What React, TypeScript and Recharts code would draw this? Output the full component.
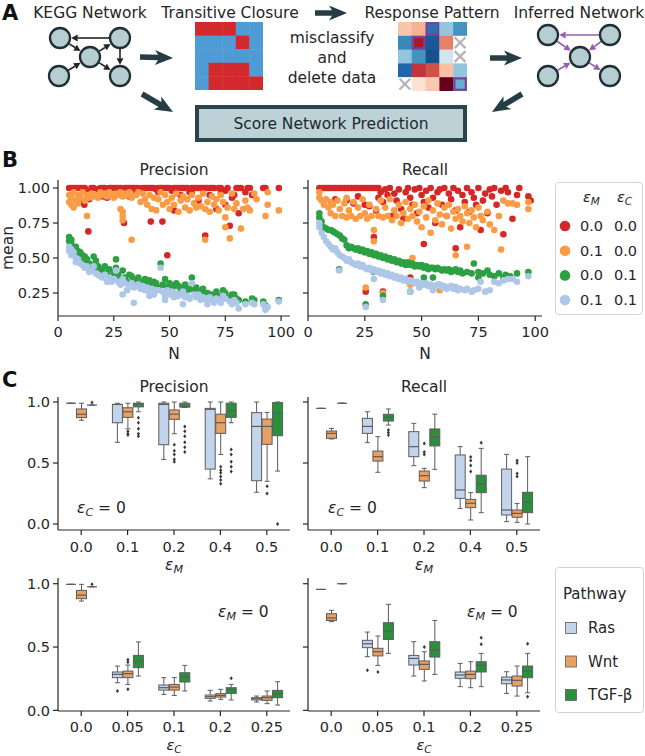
import React from 'react';
import { ScatterChart, Scatter, XAxis, YAxis, ComposedChart, Bar, Legend } from 'recharts';

const FONT = '"DejaVu Sans", Verdana, sans-serif';
const INK = '#262626';

const RED = '#d62728';
const ORANGE = '#f99c45';
const GREEN = '#2ca043';
const LIGHTBLUE = '#aec7e8';

const RAS = '#c3d5ec';
const WNT = '#e8a162';
const TGF = '#2b8f3c';
const BOX_EDGE = '#5c5c5c';

// ---------- panel A: toy matrices ----------
const closureMatrix = [
  [1, 1, 1, 0, 0],
  [0, 0, 0, 1, 0],
  [0, 0, 0, 0, 0],
  [0, 1, 1, 1, 0],
  [0, 1, 1, 1, 1],
];
const responseMatrix: (number | null)[][] = [
  [0.28, 0.35, -0.75, -0.4, -0.6],
  [-0.65, 0.82, -0.85, 0.5, null],
  [-0.4, -0.6, -0.88, -0.2, null],
  [-0.8, 0.72, 0.64, 0.3, -0.4],
  [null, 0.15, 0.27, 1.0, -0.5],
];
const misclassified = [[0, 2], [1, 1], [4, 4]];

// ---------- panel B: mean precision / recall vs N ----------
const precisionRed = [
  [5, 1], [6, 1], [7, 1], [8, 1], [9, 1], [10, 1], [11, 1], [12, 1], [13, 0.98], [15, 1], [16, 1], [18, 0.99],
  [19, 1], [20, 1], [21, 1], [22, 0.97], [23, 1], [24, 1], [25, 1], [26, 1], [27, 1], [28, 1], [29, 0.99], [30, 1],
  [31, 1], [32, 1], [33, 1], [34, 1], [35, 1], [36, 1], [37, 0.98], [38, 1], [39, 1], [40, 1], [41, 1], [42, 1],
  [43, 1], [44, 0.99], [45, 1], [46, 1], [47, 1], [48, 1], [49, 1], [50, 1], [51, 0.98], [52, 1], [53, 1], [54, 1],
  [55, 1], [56, 1], [57, 1], [58, 1], [59, 0.97], [60, 1], [61, 1], [62, 1], [63, 1], [64, 1], [65, 1], [66, 1],
  [67, 1], [68, 1], [69, 1], [70, 1], [72, 1], [73, 1], [75, 0.98], [76, 1], [79, 0.95], [80, 1], [81, 1], [82, 1],
  [85, 1], [86, 1], [87, 0.95], [92, 1], [93, 1], [99, 1],
  [10, 0.9], [11.8, 0.88], [13.6, 0.69], [14, 0.92], [20, 0.94], [22, 0.93], [25, 0.95], [29.6, 0.75], [32, 0.94],
  [35, 0.96], [41.6, 0.76], [45, 0.97], [46.8, 0.76], [49, 0.52], [52, 0.84], [55, 0.95], [60, 0.96], [63, 0.91],
  [66, 0.66], [68, 0.95], [71, 0.85], [73, 0.96], [75, 0.88], [77, 0.73], [78, 0.93], [81, 0.82], [84, 0.97],
];
const precisionOrange = [
  [5, 0.95], [5, 0.9], [6, 0.88], [6, 0.93], [7, 0.97], [7, 0.86], [8, 0.91], [9, 0.95], [9, 0.89], [10, 0.93],
  [11, 0.97], [12, 0.91], [13, 0.8], [13, 0.95], [14, 0.93], [15, 0.96], [16, 0.94], [17, 0.95], [18, 0.93],
  [19, 0.97], [20, 0.95], [21, 0.96], [22, 0.94], [23, 0.97], [24, 0.95], [25, 0.93], [26, 0.96], [27, 0.95],
  [28, 0.85], [28, 0.97], [29, 0.83], [29, 0.8], [29, 0.77], [29, 0.94], [30, 0.96], [31, 0.95], [32, 0.97],
  [33, 0.63], [33, 0.93], [35, 0.95], [36, 0.97], [37, 0.9], [38, 0.96], [39, 0.92], [40, 0.88], [41, 0.95],
  [42, 0.85], [43, 0.93], [44, 0.84], [45, 0.92], [46, 0.97], [47, 0.88], [48, 0.95], [49, 0.9], [50, 0.85],
  [51, 0.93], [52, 0.88], [53, 0.96], [54, 0.83], [55, 0.91], [56, 0.94], [57, 0.86], [58, 0.92], [59, 0.84],
  [60, 0.95], [61, 0.89], [62, 0.86], [63, 0.93], [64, 0.87], [65, 0.96], [66, 0.63], [66, 0.85], [67, 0.9],
  [68, 0.83], [69, 0.94], [70, 0.88], [71, 0.92], [72, 0.84], [73, 0.95], [74, 0.9], [75, 0.79], [75, 0.72],
  [76, 0.86], [77, 0.64], [78, 0.96], [79, 0.85], [80, 0.89], [82, 0.71], [83, 0.85], [84, 0.91], [85, 0.86],
  [86, 0.84], [88, 0.96], [89, 0.92], [93, 0.8], [94, 0.88], [94, 0.97], [99, 0.84],
];
const precisionGreen = [
  [5, 0.65], [5, 0.62], [6, 0.6], [6, 0.63], [7, 0.57], [8, 0.58], [8, 0.53], [9, 0.55], [10, 0.54], [10, 0.5],
  [11, 0.52], [12, 0.51], [12, 0.47], [13, 0.49], [14, 0.46], [15, 0.45], [16, 0.51], [17, 0.48], [17, 0.43],
  [18, 0.44], [19, 0.42], [20, 0.4], [21, 0.44], [22, 0.39], [23, 0.42], [24, 0.37], [25, 0.4], [26, 0.49],
  [26, 0.43], [27, 0.38], [28, 0.35], [29, 0.41], [30, 0.36], [31, 0.33], [32, 0.38], [33, 0.37], [34, 0.34],
  [35, 0.33], [36, 0.36], [37, 0.31], [38, 0.33], [39, 0.35], [40, 0.31], [41, 0.34], [42, 0.3], [43, 0.33],
  [44, 0.32], [45, 0.29], [46, 0.46], [47, 0.31], [48, 0.35], [49, 0.29], [50, 0.32], [51, 0.28], [52, 0.3],
  [53, 0.32], [54, 0.3], [55, 0.27], [56, 0.29], [57, 0.31], [58, 0.27], [59, 0.28], [60, 0.36], [61, 0.27],
  [62, 0.29], [63, 0.25], [64, 0.26], [65, 0.28], [66, 0.24], [67, 0.25], [68, 0.23], [69, 0.24], [70, 0.22],
  [71, 0.26], [72, 0.23], [73, 0.21], [74, 0.27], [75, 0.25], [77, 0.22], [78, 0.24], [79, 0.24], [80, 0.21],
  [81, 0.2], [84, 0.19], [87, 0.21], [88, 0.2], [92, 0.19], [93, 0.16], [99, 0.2],
];
const precisionBlue = [
  [5, 0.58], [5, 0.55], [6, 0.56], [6, 0.52], [7, 0.54], [8, 0.5], [8, 0.47], [9, 0.49], [10, 0.46], [11, 0.45],
  [12, 0.43], [13, 0.44], [14, 0.4], [15, 0.41], [16, 0.44], [17, 0.39], [18, 0.38], [19, 0.37], [20, 0.36],
  [21, 0.38], [22, 0.33], [23, 0.36], [24, 0.33], [25, 0.35], [26, 0.41], [27, 0.33], [28, 0.31], [29, 0.24],
  [29, 0.35], [30, 0.32], [31, 0.27], [32, 0.3], [33, 0.32], [34, 0.18], [34, 0.29], [35, 0.3], [36, 0.31],
  [37, 0.28], [38, 0.3], [39, 0.27], [40, 0.29], [41, 0.23], [41, 0.26], [42, 0.28], [43, 0.24], [44, 0.27],
  [45, 0.27], [46, 0.43], [47, 0.26], [48, 0.2], [48, 0.23], [49, 0.27], [50, 0.24], [51, 0.26], [52, 0.22],
  [53, 0.25], [54, 0.23], [55, 0.24], [56, 0.17], [56, 0.26], [57, 0.22], [58, 0.23], [59, 0.21], [60, 0.32],
  [61, 0.24], [62, 0.22], [63, 0.24], [64, 0.2], [65, 0.22], [66, 0.21], [67, 0.17], [67, 0.19], [68, 0.22],
  [69, 0.2], [70, 0.18], [71, 0.21], [72, 0.2], [73, 0.18], [74, 0.23], [75, 0.21], [77, 0.19], [78, 0.17],
  [79, 0.2], [80, 0.18], [81, 0.14], [84, 0.17], [87, 0.18], [88, 0.17], [92, 0.17], [93, 0.13], [94, 0.15], [99, 0.19],
];
const recallRed = [
  [5, 1], [6, 1], [7, 1], [8, 1], [9, 1], [10, 1], [11, 1], [12, 1], [13, 1], [14, 1], [15, 1], [16, 1], [17, 1],
  [18, 1], [19, 1], [20, 1], [21, 1], [22, 1], [23, 1], [24, 1], [25, 1], [26, 1], [27, 1], [28, 1], [29, 1],
  [30, 1], [31, 1],
  [12, 0.92], [17, 0.91], [20, 0.89], [22, 0.94], [25, 0.88], [25.4, 0.26], [27, 0.87], [29, 0.65], [30, 0.84],
  [31, 0.93], [32, 0.97], [33, 0.26], [33, 0.9], [34, 0.99], [35, 0.95], [36, 1], [37, 0.8], [38, 0.96], [39, 0.91],
  [40, 0.99], [41, 0.85], [42, 0.78], [43, 0.97], [44, 1], [45, 0.36], [45, 0.93], [46, 0.88], [47, 0.99],
  [48, 0.82], [49, 1], [50, 0.95], [51, 0.6], [51, 0.9], [52, 0.98], [53, 0.86], [54, 1], [55, 0.93], [56, 0.75],
  [57, 0.97], [58, 0.99], [59, 0.88], [60, 1], [61, 0.8], [62, 0.96], [63, 0.92], [64, 1], [65, 0.57], [65, 0.84],
  [66, 0.98], [67, 0.72], [68, 0.95], [69, 0.9], [70, 1], [71, 0.83], [72, 0.97], [73, 0.93], [74, 0.88], [75, 1],
  [76, 0.7], [77, 0.91], [78, 0.96], [79, 0.82], [80, 0.99], [81, 0.94], [82, 1], [83, 0.88], [85, 0.98], [86, 0.67],
  [87, 1], [88, 0.97], [90, 0.78], [92, 0.95], [93, 1], [97, 0.94], [98, 0.91],
];
const recallOrange = [
  [5, 0.97], [5, 0.93], [6, 0.91], [7, 0.88], [8, 0.92], [9, 0.86], [10, 0.9], [10, 0.82], [11, 0.88], [12, 0.8],
  [13, 0.91], [14, 0.85], [15, 0.8], [16, 0.89], [17, 0.79], [17, 0.93], [18, 0.84], [19, 0.8], [20, 0.9], [21, 0.78],
  [22, 0.86], [23, 0.8], [24, 0.92], [25.4, 0.29], [25, 0.82], [26, 0.78], [27, 0.88], [28, 0.8], [29, 0.7],
  [29, 0.62], [30, 0.85], [31, 0.8], [32, 0.91], [33, 0.25], [33, 0.79], [34, 0.86], [35, 0.8], [36, 0.92],
  [37, 0.77], [38, 0.84], [39, 0.8], [40, 0.88], [41, 0.75], [42, 0.82], [43, 0.9], [44, 0.78], [45, 0.31],
  [45, 0.85], [46, 0.5], [46, 0.8], [47, 0.88], [48, 0.76], [49, 0.83], [50, 0.72], [51, 0.87], [52, 0.79],
  [53, 0.91], [54, 0.68], [55, 0.84], [56, 0.77], [57, 0.89], [58, 0.27], [58, 0.81], [59, 0.74], [60, 0.86],
  [61, 0.8], [62, 0.88], [63, 0.71], [64, 0.83], [65, 0.52], [65, 0.78], [66, 0.85], [67, 0.8], [68, 0.76],
  [69, 0.87], [70, 0.58], [70, 0.82], [71, 0.75], [72, 0.84], [73, 0.79], [74, 0.72], [75, 0.86], [76, 0.8],
  [77, 0.77], [79, 0.83], [80, 0.74], [82, 0.7], [84, 0.8], [85, 0.56], [86, 0.91], [88, 0.89], [90, 0.89],
  [92, 0.88], [97, 0.9], [97, 0.85],
];
const recallGreen = [
  [5, 0.82], [5, 0.79], [6, 0.76], [7, 0.72], [8, 0.71], [9, 0.7], [10, 0.7], [11, 0.69], [12, 0.68], [13, 0.67],
  [13.7, 0.42], [14, 0.66], [15, 0.64], [16, 0.63], [17, 0.59], [18, 0.57], [19, 0.58], [20, 0.57], [21, 0.56],
  [22, 0.57], [23, 0.55], [24, 0.56], [25.4, 0.17], [25, 0.54], [26, 0.55], [27, 0.53], [28, 0.54], [29, 0.4],
  [29, 0.52], [30, 0.53], [31, 0.51], [32, 0.52], [33, 0.23], [33, 0.5], [34, 0.51], [35, 0.49], [36, 0.5],
  [37, 0.48], [38, 0.49], [39, 0.47], [40, 0.48], [41, 0.46], [42, 0.47], [43, 0.45], [44, 0.47], [45, 0.26],
  [45, 0.45], [46, 0.46], [47, 0.44], [48, 0.45], [49, 0.44], [50, 0.45], [51, 0.36], [51, 0.43], [52, 0.44],
  [53, 0.42], [54, 0.43], [55, 0.36], [55, 0.43], [56, 0.42], [57, 0.43], [58, 0.42], [59, 0.41], [60, 0.42],
  [61, 0.41], [62, 0.42], [63, 0.4], [64, 0.41], [65, 0.29], [65, 0.42], [66, 0.4], [67, 0.41], [68, 0.39],
  [70, 0.4], [72, 0.39], [73, 0.46], [75, 0.36], [75, 0.4], [77, 0.39], [79, 0.41], [80, 0.38], [82, 0.37],
  [84, 0.39], [86, 0.36], [87, 0.38], [89, 0.37], [92, 0.39], [97, 0.4],
];
const recallBlue = [
  [5, 0.75], [5, 0.72], [6, 0.68], [7, 0.65], [8, 0.62], [9, 0.6], [10, 0.58], [11, 0.56], [12, 0.57], [13.7, 0.41],
  [13, 0.54], [14, 0.52], [15, 0.51], [16, 0.5], [17, 0.48], [18, 0.49], [19, 0.47], [20, 0.46], [21, 0.45],
  [22, 0.46], [23, 0.44], [24, 0.45], [25.4, 0.15], [25, 0.43], [26, 0.42], [27, 0.43], [28, 0.41], [29, 0.35],
  [29, 0.42], [30, 0.4], [31, 0.41], [32, 0.39], [33, 0.2], [33, 0.4], [34, 0.38], [35, 0.39], [36, 0.37],
  [37, 0.38], [38, 0.36], [39, 0.37], [40, 0.35], [41, 0.36], [42, 0.34], [43, 0.35], [44, 0.33], [45, 0.26],
  [45, 0.34], [46, 0.33], [47, 0.32], [48, 0.33], [49, 0.29], [50, 0.32], [51, 0.31], [52, 0.32], [53, 0.3],
  [54, 0.31], [55, 0.27], [56, 0.3], [57, 0.31], [58, 0.31], [59, 0.29], [60, 0.3], [61, 0.28], [62, 0.29],
  [63, 0.3], [64, 0.28], [65, 0.29], [66, 0.27], [67, 0.28], [69, 0.27], [70, 0.28], [72, 0.26], [73, 0.27],
  [75, 0.28], [76, 0.33], [78, 0.26], [80, 0.27], [82, 0.33], [84, 0.32], [86, 0.34], [88, 0.35], [90, 0.35],
  [92, 0.33], [97, 0.37],
];

// ---------- panel C: box statistics [lowWhisker, q1, median, q3, highWhisker, outliers] ----------
type Box = [number, number, number, number, number, number[]];
const epsMCats = ['0.0', '0.1', '0.2', '0.4', '0.5'];
const epsCCats = ['0.0', '0.05', '0.1', '0.2', '0.25'];

const precisionMRas: Box[] = [
  [0.99, 0.99, 0.99, 0.99, 0.99, []],
  [0.67, 0.83, 0.98, 0.98, 0.99, []],
  [0.53, 0.65, 0.98, 0.99, 1.0, []],
  [0.37, 0.45, 0.94, 0.948, 1.0, []],
  [0.26, 0.355, 0.8, 0.913, 1.0, []],
];
const precisionMWnt: Box[] = [
  [0.85, 0.872, 0.9, 0.943, 0.99, []],
  [0.78, 0.874, 0.92, 0.953, 0.99, [0.76, 0.74, 0.73]],
  [0.74, 0.858, 0.9, 0.935, 1.0, [0.65, 0.6, 0.57, 0.53, 0.51]],
  [0.57, 0.743, 0.83, 0.9, 1.0, [0.47, 0.44, 0.42, 0.39, 0.36, 0.33]],
  [0.35, 0.653, 0.8, 0.86, 0.915, [0.31, 0.25]],
];
const precisionMTgf: Box[] = [
  [0.975, 0.975, 0.975, 0.975, 0.975, [0.995]],
  [0.92, 0.96, 0.985, 0.99, 1.0, [0.87, 0.83, 0.78, 0.74, 0.72]],
  [0.955, 0.958, 0.965, 0.99, 1.0, [0.8, 0.76, 0.72, 0.67, 0.63, 0.59]],
  [0.83, 0.874, 0.926, 0.99, 1.0, [0.61, 0.57, 0.51, 0.47, 0.43]],
  [0.434, 0.724, 0.907, 0.995, 1.0, [0.0]],
];
const recallMRas: Box[] = [
  [0.948, 0.948, 0.948, 0.948, 0.948, []],
  [0.667, 0.743, 0.8, 0.866, 0.92, []],
  [0.478, 0.552, 0.634, 0.757, 0.825, []],
  [0.128, 0.21, 0.279, 0.566, 0.634, []],
  [0.019, 0.074, 0.115, 0.45, 0.571, []],
];
const recallMWnt: Box[] = [
  [0.697, 0.702, 0.743, 0.762, 0.784, []],
  [0.424, 0.516, 0.552, 0.598, 0.716, []],
  [0.298, 0.352, 0.396, 0.434, 0.456, [0.66, 0.59, 0.57]],
  [0.033, 0.134, 0.17, 0.202, 0.257, [0.55, 0.52, 0.48, 0.43]],
  [0.014, 0.055, 0.087, 0.115, 0.169, [0.52, 0.5, 0.415, 0.39]],
];
const recallMTgf: Box[] = [
  [0.99, 0.99, 0.99, 0.99, 0.99, []],
  [0.811, 0.844, 0.874, 0.899, 0.943, [0.77, 0.75, 0.73]],
  [0.448, 0.64, 0.716, 0.779, 0.9, []],
  [0.093, 0.257, 0.328, 0.4, 0.62, [0.667]],
  [0.0, 0.093, 0.178, 0.26, 0.552, []],
];
const precisionCRas: Box[] = [
  [0.995, 0.995, 0.995, 0.995, 0.995, []],
  [0.218, 0.258, 0.284, 0.303, 0.35, [0.153]],
  [0.126, 0.16, 0.179, 0.2, 0.258, []],
  [0.074, 0.095, 0.108, 0.121, 0.158, []],
  [0.066, 0.082, 0.092, 0.1, 0.113, []],
];
const precisionCWnt: Box[] = [
  [0.863, 0.882, 0.91, 0.947, 0.995, []],
  [0.205, 0.258, 0.29, 0.31, 0.358, [0.4, 0.38, 0.166]],
  [0.118, 0.16, 0.184, 0.205, 0.258, []],
  [0.087, 0.105, 0.118, 0.132, 0.166, []],
  [0.053, 0.079, 0.1, 0.113, 0.153, []],
];
const precisionCTgf: Box[] = [
  [0.976, 0.976, 0.976, 0.976, 0.976, [0.995]],
  [0.271, 0.337, 0.39, 0.434, 0.54, []],
  [0.153, 0.224, 0.263, 0.297, 0.355, []],
  [0.082, 0.134, 0.166, 0.179, 0.205, [0.253]],
  [0.042, 0.1, 0.132, 0.158, 0.226, []],
];
const recallCRas: Box[] = [
  [0.955, 0.955, 0.955, 0.955, 0.955, []],
  [0.424, 0.495, 0.526, 0.553, 0.618, [0.316]],
  [0.271, 0.358, 0.41, 0.434, 0.542, []],
  [0.187, 0.253, 0.279, 0.303, 0.371, []],
  [0.134, 0.21, 0.24, 0.263, 0.305, []],
];
const recallCWnt: Box[] = [
  [0.7, 0.71, 0.73, 0.763, 0.79, []],
  [0.355, 0.43, 0.463, 0.49, 0.587, [0.303]],
  [0.232, 0.324, 0.363, 0.39, 0.463, [0.5]],
  [0.179, 0.25, 0.284, 0.31, 0.384, []],
  [0.113, 0.192, 0.237, 0.271, 0.35, []],
];
const recallCTgf: Box[] = [
  [1.0, 1.0, 1.0, 1.0, 1.0, []],
  [0.45, 0.56, 0.626, 0.692, 0.837, []],
  [0.284, 0.421, 0.476, 0.542, 0.71, []],
  [0.187, 0.303, 0.355, 0.384, 0.45, [0.574, 0.521]],
  [0.139, 0.258, 0.31, 0.35, 0.45, [0.526, 0.108]],
];

// ---------- helpers ----------
const RDBU = ['#053061', '#2166ac', '#4393c3', '#92c5de', '#d1e5f0', '#f7f7f7', '#fddbc7', '#f4a582', '#d6604d', '#b2182b', '#67001f'];
function hex(h: string) {
  const n = parseInt(h.slice(1), 16);
  return [(n >> 16) & 255, (n >> 8) & 255, n & 255];
}
function rdbu(v: number) {
  const t = ((v + 1) / 2) * 10;
  const i = Math.max(0, Math.min(9, Math.floor(t)));
  const f = t - i;
  const a = hex(RDBU[i]);
  const b = hex(RDBU[i + 1]);
  return `rgb(${a.map((c, k) => Math.round(c + (b[k] - c) * f)).join(',')})`;
}

const closureCells = closureMatrix.flatMap((row, r) =>
  row.map((v, c) => ({ c: c + 0.5, r: r + 0.5, fill: v ? '#d3292c' : '#4f9bd6', deleted: false, flag: false }))
);
const responseCells = responseMatrix.flatMap((row, r) =>
  row.map((v, c) => ({
    c: c + 0.5,
    r: r + 0.5,
    fill: v === null ? '#fff' : rdbu(v),
    deleted: v === null,
    flag: misclassified.some(([mr, mc]) => mr === r && mc === c),
  }))
);

function Heatmap({ cells, left, top, size }: { cells: any[]; left: number; top: number; size: number }) {
  const cell = size / 5;
  const shape = (p: any) => {
    const x = p.cx - cell / 2;
    const y = p.cy - cell / 2;
    const d = p.payload;
    if (d.deleted) {
      return (
        <g>
          <rect x={x} y={y} width={cell} height={cell} fill="#fff" />
          <line x1={x + 1.5} y1={y + 1.5} x2={x + cell - 1.5} y2={y + cell - 1.5} stroke="#b4b4b4" strokeWidth={2.2} />
          <line x1={x + cell - 1.5} y1={y + 1.5} x2={x + 1.5} y2={y + cell - 1.5} stroke="#b4b4b4" strokeWidth={2.2} />
        </g>
      );
    }
    return (
      <g>
        <rect x={x} y={y} width={cell + 0.4} height={cell + 0.4} fill={d.fill} />
        {d.flag && <rect x={x + 1.2} y={y + 1.2} width={cell - 2.4} height={cell - 2.4} fill="none" stroke="#7b4397" strokeWidth={2.2} />}
      </g>
    );
  };
  return (
    <div style={{ position: 'absolute', left, top }}>
      <ScatterChart width={size} height={size} margin={{ top: 0, right: 0, bottom: 0, left: 0 }}>
        <XAxis type="number" dataKey="c" domain={[0, 5]} hide />
        <YAxis type="number" dataKey="r" domain={[0, 5]} reversed hide />
        <Scatter data={cells} shape={shape} isAnimationActive={false} />
      </ScatterChart>
    </div>
  );
}

// ---------- panel A diagram pieces ----------
const NODE_R = 10;
function Edge({ a, b, color }: { a: number[]; b: number[]; color: string }) {
  const dx = b[0] - a[0];
  const dy = b[1] - a[1];
  const L = Math.hypot(dx, dy);
  const ux = dx / L;
  const uy = dy / L;
  const sx = a[0] + ux * (NODE_R + 1);
  const sy = a[1] + uy * (NODE_R + 1);
  const ex = b[0] - ux * (NODE_R + 1.2);
  const ey = b[1] - uy * (NODE_R + 1.2);
  const hl = 6.5;
  const hw = 3.4;
  const bx = ex - ux * hl;
  const by = ey - uy * hl;
  return (
    <g>
      <line x1={sx} y1={sy} x2={bx} y2={by} stroke={color} strokeWidth={1.6} />
      <polygon points={`${ex},${ey} ${bx - uy * hw},${by + ux * hw} ${bx + uy * hw},${by - ux * hw}`} fill={color} />
    </g>
  );
}
function Network({ nodes, edges, color }: { nodes: number[][]; edges: number[][]; color: string }) {
  return (
    <g>
      {edges.map(([i, j], k) => <Edge key={k} a={nodes[i]} b={nodes[j]} color={color} />)}
      {nodes.map((p, k) => <circle key={k} cx={p[0]} cy={p[1]} r={NODE_R} fill="#b6cdd1" stroke="#1f2f35" strokeWidth={2.3} />)}
    </g>
  );
}
function FatArrow({ x1, y1, x2, y2 }: { x1: number; y1: number; x2: number; y2: number }) {
  const dx = x2 - x1;
  const dy = y2 - y1;
  const L = Math.hypot(dx, dy);
  const ux = dx / L;
  const uy = dy / L;
  const nx = -uy;
  const ny = ux;
  const sw = 2.8;
  const hw = 7.5;
  const hl = 15;
  const bx = x2 - ux * hl;
  const by = y2 - uy * hl;
  const notch = 3;
  const pts = [
    [x1 + nx * sw, y1 + ny * sw],
    [bx + nx * sw, by + ny * sw],
    [bx - ux * notch + nx * hw, by - uy * notch + ny * hw],
    [x2, y2],
    [bx - ux * notch - nx * hw, by - uy * notch - ny * hw],
    [bx - nx * sw, by - ny * sw],
    [x1 - nx * sw, y1 - ny * sw],
  ];
  return <polygon points={pts.map((p) => p.join(',')).join(' ')} fill="#263d44" />;
}

function Eps({ x, y, sub, rest, size = 15, anchor = 'start' }: { x: number; y: number; sub: string; rest?: string; size?: number; anchor?: string }) {
  return (
    <text x={x} y={y} fontSize={size} textAnchor={anchor as any} fontFamily={FONT} fill={INK}>
      <tspan fontStyle="italic">ε</tspan>
      <tspan fontStyle="italic" fontSize={size * 0.72} dy={size * 0.22}>{sub}</tspan>
      {rest ? <tspan dy={-size * 0.22}>{rest}</tspan> : null}
    </text>
  );
}

// ---------- panel B ----------
const dotShape = (color: string) => (p: any) => <circle cx={p.cx} cy={p.cy} r={3.3} fill={color} />;
const toXY = (arr: number[][]) => arr.map(([x, y]) => ({ x, y }));

function ScatterLegend() {
  const rows = [
    [RED, '0.0', '0.0'],
    [ORANGE, '0.1', '0.0'],
    [GREEN, '0.0', '0.1'],
    [LIGHTBLUE, '0.1', '0.1'],
  ];
  return (
    <svg width={88} height={133} style={{ display: 'block' }}>
      <rect x={0.5} y={0.5} width={87} height={132} rx={3} fill="#fff" stroke="#d3d3d3" />
      <Eps x={28} y={20} sub="M" size={14.5} />
      <Eps x={62} y={20} sub="C" size={14.5} />
      {rows.map(([c, a, b], i) => (
        <g key={i}>
          <circle cx={10} cy={44 + i * 24.7} r={5.3} fill={c} />
          <text x={25} y={49 + i * 24.7} fontSize={14.5} fontFamily={FONT} fill={INK}>{a}</text>
          <text x={59} y={49 + i * 24.7} fontSize={14.5} fontFamily={FONT} fill={INK}>{b}</text>
        </g>
      ))}
    </svg>
  );
}

const tickStyle = { fill: INK, fontSize: 14.5, fontFamily: FONT };
const axisStroke = { stroke: INK, strokeWidth: 1.2 };

function ScatterPanel({ left, width, marginRight, yWidth, xMax, series, labels, legend }: any) {
  return (
    <div style={{ position: 'absolute', left, top: 170 }}>
      <ScatterChart width={width} height={197} margin={{ top: 10, right: marginRight, bottom: 0, left: 0 }}>
        <XAxis
          type="number"
          dataKey="x"
          domain={[0, xMax]}
          ticks={[0, 25, 50, 75, 100]}
          height={51}
          tickSize={5}
          tickMargin={6}
          tick={tickStyle}
          axisLine={axisStroke}
          tickLine={axisStroke}
          label={{ value: 'N', position: 'insideBottom', offset: 8, style: { fill: INK, fontSize: 15.5, fontFamily: FONT } }}
        />
        <YAxis
          type="number"
          dataKey="y"
          domain={[0.086, 1.057]}
          ticks={[0.25, 0.5, 0.75, 1.0]}
          width={yWidth}
          tickSize={5}
          tickMargin={3}
          tick={tickStyle}
          tickFormatter={(v: number) => (labels ? v.toFixed(2) : '')}
          axisLine={axisStroke}
          tickLine={axisStroke}
          label={labels ? { value: 'mean', angle: -90, position: 'insideLeft', offset: 7, style: { textAnchor: 'middle', fill: INK, fontSize: 15.5, fontFamily: FONT } } : undefined}
        />
        {series.map((s: any, i: number) => (
          <Scatter key={i} data={toXY(s.data)} fill={s.color} shape={dotShape(s.color)} isAnimationActive={false} />
        ))}
        {legend && (
          <Legend
            layout="vertical"
            align="center"
            verticalAlign="middle"
            content={() => <ScatterLegend />}
            wrapperStyle={{ left: 255, top: 12, width: 88, height: 133 }}
          />
        )}
      </ScatterChart>
    </div>
  );
}

// ---------- panel C ----------
function boxShape(key: string, fill: string) {
  return (p: any) => {
    const { x, width, payload } = p;
    const top = Math.min(p.y, p.y + p.height);
    const h = Math.abs(p.height);
    const py = (v: number) => top + h * (1 - v);
    const [lo, q1, med, q3, hi, out] = payload[key] as Box;
    const cx = x + width / 2;
    const cap = width / 4;
    return (
      <g>
        <line x1={cx} y1={py(hi)} x2={cx} y2={py(q3)} stroke={BOX_EDGE} strokeWidth={1} />
        <line x1={cx} y1={py(q1)} x2={cx} y2={py(lo)} stroke={BOX_EDGE} strokeWidth={1} />
        <line x1={cx - cap} y1={py(hi)} x2={cx + cap} y2={py(hi)} stroke={BOX_EDGE} strokeWidth={1} />
        <line x1={cx - cap} y1={py(lo)} x2={cx + cap} y2={py(lo)} stroke={BOX_EDGE} strokeWidth={1} />
        <rect x={x} y={py(q3)} width={width} height={Math.max(0, py(q1) - py(q3))} fill={fill} stroke={BOX_EDGE} strokeWidth={1} />
        <line x1={x} y1={py(med)} x2={x + width} y2={py(med)} stroke={BOX_EDGE} strokeWidth={1.2} />
        {out.map((v, i) => {
          const oy = py(v);
          return <polygon key={i} points={`${cx},${oy - 2} ${cx + 1.6},${oy} ${cx},${oy + 2} ${cx - 1.6},${oy}`} fill="#3a3a3a" />;
        })}
      </g>
    );
  };
}
const rasShape = boxShape('ras', RAS);
const wntShape = boxShape('wnt', WNT);
const tgfShape = boxShape('tgf', TGF);

function PathwayLegend() {
  const rows = [
    [RAS, 'Ras'],
    [WNT, 'Wnt'],
    [TGF, 'TGF-β'],
  ];
  return (
    <svg width={89} height={146} style={{ display: 'block' }}>
      <rect x={0.5} y={0.5} width={88} height={145} rx={3} fill="#fff" stroke="#d3d3d3" />
      <text x={8} y={32} fontSize={15} fontFamily={FONT} fill={INK}>Pathway</text>
      {rows.map(([c, name], i) => (
        <g key={i}>
          <rect x={10.5} y={55.5 + i * 33.5} width={11} height={11} fill={c} stroke={BOX_EDGE} strokeWidth={0.8} />
          <text x={33} y={66 + i * 33.5} fontSize={15} fontFamily={FONT} fill={INK}>{name}</text>
        </g>
      ))}
    </svg>
  );
}

function BoxPanel({ left, top, width, height, marginTop, marginRight, yWidth, cats, ras, wnt, tgf, domain, labels, legend, xTickMargin }: any) {
  const rows = cats.map((cat: string, i: number) => ({
    cat,
    ras: ras[i],
    wnt: wnt[i],
    tgf: tgf[i],
    rasSpan: [0, 1],
    wntSpan: [0, 1],
    tgfSpan: [0, 1],
  }));
  return (
    <div style={{ position: 'absolute', left, top }}>
      <ComposedChart width={width} height={height} data={rows} barSize={10} barGap={0.5} margin={{ top: marginTop, right: marginRight, bottom: 0, left: 0 }}>
        <XAxis dataKey="cat" type="category" height={30} tickSize={5} tickMargin={xTickMargin} tick={tickStyle} axisLine={axisStroke} tickLine={axisStroke} />
        <YAxis
          type="number"
          domain={domain}
          ticks={[0, 0.5, 1.0]}
          width={yWidth}
          tickSize={5}
          tickMargin={3}
          tick={tickStyle}
          tickFormatter={(v: number) => (labels ? v.toFixed(1) : '')}
          axisLine={axisStroke}
          tickLine={axisStroke}
          allowDataOverflow
        />
        <Bar dataKey="rasSpan" shape={rasShape} isAnimationActive={false} />
        <Bar dataKey="wntSpan" shape={wntShape} isAnimationActive={false} />
        <Bar dataKey="tgfSpan" shape={tgfShape} isAnimationActive={false} />
        {legend && (
          <Legend
            layout="vertical"
            align="center"
            verticalAlign="middle"
            content={() => <PathwayLegend />}
            wrapperStyle={{ left: 255, top: -3, width: 89, height: 146 }}
          />
        )}
      </ComposedChart>
    </div>
  );
}

const keggNodes = [[60, 38], [120, 38], [90, 57], [59, 76], [120, 76]];
const keggEdges = [[1, 0], [0, 2], [2, 1], [1, 4], [2, 4], [3, 2]];
const inferredNodes = [[548, 35], [610, 35], [580, 57], [548, 76], [610, 76]];
const inferredEdges = [[1, 0], [0, 2], [1, 2], [3, 2], [2, 4]];

export default function App() {
  const bSeriesP = [
    { data: precisionRed, color: RED },
    { data: precisionOrange, color: ORANGE },
    { data: precisionGreen, color: GREEN },
    { data: precisionBlue, color: LIGHTBLUE },
  ];
  const bSeriesR = [
    { data: recallRed, color: RED },
    { data: recallOrange, color: ORANGE },
    { data: recallGreen, color: GREEN },
    { data: recallBlue, color: LIGHTBLUE },
  ];
  const topDomain = [-0.049, 1.041];
  const botDomain = [-0.005, 1.045];
  const title = { fontSize: 15.5, fontFamily: FONT, fill: INK, textAnchor: 'middle' as const };
  const letter = { fontSize: 21, fontFamily: FONT, fontWeight: 700, fill: '#111' };
  return (
    <div style={{ position: 'absolute', left: 0, top: 0, width: 645, height: 756, background: '#fff', fontFamily: FONT, overflow: 'hidden' }}>
      <Heatmap cells={closureCells} left={195} top={22} size={68} />
      <Heatmap cells={responseCells} left={398} top={22} size={69} />

      <ScatterPanel left={0} width={300} marginRight={10} yWidth={58} xMax={104} series={bSeriesP} labels />
      <ScatterPanel left={300} width={345} marginRight={103} yWidth={8} xMax={103} series={bSeriesR} legend />

      <BoxPanel left={0} top={390} width={300} height={170} marginTop={7} marginRight={10} yWidth={58} xTickMargin={7}
        cats={epsMCats} ras={precisionMRas} wnt={precisionMWnt} tgf={precisionMTgf} domain={topDomain} labels />
      <BoxPanel left={300} top={390} width={245} height={170} marginTop={7} marginRight={5} yWidth={8} xTickMargin={7}
        cats={epsMCats} ras={recallMRas} wnt={recallMWnt} tgf={recallMTgf} domain={topDomain} />
      <BoxPanel left={0} top={570} width={300} height={171} marginTop={8} marginRight={10} yWidth={58} xTickMargin={6}
        cats={epsCCats} ras={precisionCRas} wnt={precisionCWnt} tgf={precisionCTgf} domain={botDomain} labels />
      <BoxPanel left={300} top={570} width={345} height={171} marginTop={8} marginRight={105} yWidth={8} xTickMargin={6}
        cats={epsCCats} ras={recallCRas} wnt={recallCWnt} tgf={recallCTgf} domain={botDomain} legend />

      <svg width={645} height={756} style={{ position: 'absolute', left: 0, top: 0, pointerEvents: 'none' }}>
        {/* panel A */}
        <text x={2} y={20} {...letter}>A</text>
        <text x={90} y={18} {...title}>KEGG Network</text>
        <text x={230} y={18} {...title}>Transitive Closure</text>
        <text x={432} y={18} {...title}>Response Pattern</text>
        <text x={579} y={18} {...title}>Inferred Network</text>
        <Network nodes={keggNodes} edges={keggEdges} color="#222" />
        <Network nodes={inferredNodes} edges={inferredEdges} color="#9a5cb4" />
        <FatArrow x1={140} y1={57} x2={173} y2={58} />
        <FatArrow x1={315} y1={13} x2={347} y2={13} />
        <FatArrow x1={490} y1={58} x2={522} y2={58} />
        <FatArrow x1={142} y1={94} x2={173} y2={112} />
        <FatArrow x1={522} y1={94} x2={492} y2={112} />
        <text x={332} y={43} {...title}>misclassify</text>
        <text x={332} y={63} {...title}>and</text>
        <text x={332} y={83} {...title}>delete data</text>
        <rect x={197} y={107} width={268} height={33} fill="#bcd2d6" stroke="#2b454e" strokeWidth={4} />
        <text x={331} y={129} {...title} fill="#1c2a30">Score Network Prediction</text>

        {/* panel B */}
        <text x={2} y={167} {...letter}>B</text>
        <text x={174} y={175} {...title}>Precision</text>
        <text x={425} y={175} {...title}>Recall</text>

        {/* panel C */}
        <text x={2} y={387} {...letter}>C</text>
        <text x={174} y={392} {...title}>Precision</text>
        <text x={424} y={392} {...title}>Recall</text>
        <Eps x={77} y={513} sub="C" rest=" = 0" size={15.5} />
        <Eps x={328} y={513} sub="C" rest=" = 0" size={15.5} />
        <Eps x={218} y={617} sub="M" rest=" = 0" size={15.5} />
        <Eps x={467} y={617} sub="M" rest=" = 0" size={15.5} />
        <Eps x={174} y={570} sub="M" size={15.5} anchor="middle" />
        <Eps x={424} y={570} sub="M" size={15.5} anchor="middle" />
        <Eps x={174} y={750} sub="C" size={14.5} anchor="middle" />
        <Eps x={424} y={750} sub="C" size={14.5} anchor="middle" />
      </svg>
    </div>
  );
}
